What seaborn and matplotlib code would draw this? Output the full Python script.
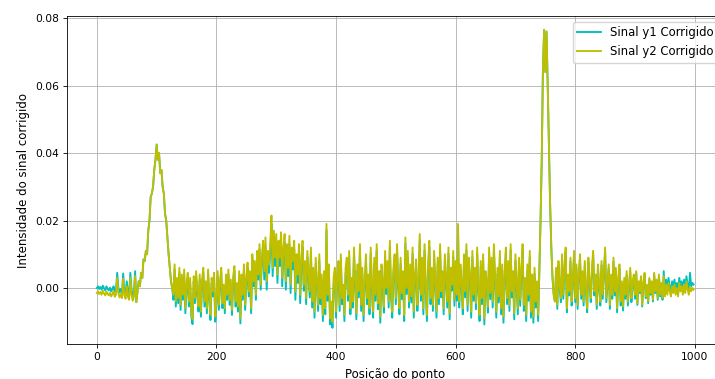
import numpy as np
import matplotlib
matplotlib.use("Agg")
import matplotlib.pyplot as plt
import matplotlib.ticker as mticker
import seaborn as sns

# Sample positions (every 2nd point of the 0..999 scan)
posicao = np.arange(0, 1000, 2)

# Corrected signal intensities, written in units of 1e-4
y1_corrigido_e4 = [
    0, 5, -3, 3, -5, 7, -1, -7, 5, -3,
    -7, 1, -10, -3, 5, -11, -5, 45, 0, -13,
    -3, -15, 43, -7, -17, 20, -11, -20, 45, -5,
    -23, -10, 50, -42, -10, 20, 5, 45, 30, 85,
    80, 110, 100, 170, 200, 270, 280, 300, 350, 380,
    425, 380, 400, 340, 350, 300, 280, 220, 200, 150,
    100, 60, 20, 0, -35, 55, -55, 15, -45, 45,
    -65, 25, -35, 40, -75, -5, 30, -55, 15, -85,
    -107, 20, -45, 35, -25, -70, 25, -85, 10, 45,
    -55, 5, -75, 40, -35, -95, 15, -25, 30, -100,
    -45, 35, -65, 5, 45, -60, -5, -75, 25, -35,
    40, -50, 10, -80, 20, 50, -55, 0, -70, 35,
    -105, 25, -35, 55, -65, 15, 60, -25, 35, -75,
    85, 5, 65, -35, 95, 25, 115, -5, 75, 125,
    25, 125, -5, 85, 45, 105, 190, 35, 145, 65,
    135, 15, 115, 65, 140, 5, 95, 135, -5, 105,
    35, 130, -15, 95, 55, 115, -35, 75, 15, 105,
    -45, 65, 122, -8, 62, -48, 92, 32, -28, 102,
    -58, 42, -88, 72, 2, -68, 82, -48, 22, -98,
    32, -78, 172, -38, 52, -108, -58, -118, 12, 42,
    -88, 22, 62, -68, 82, -48, -8, -98, 42, 72,
    -38, 92, -78, 12, -58, 102, 2, -93, 52, -28,
    112, -68, 42, -98, 2, 82, -48, 22, -78, 102,
    -8, -88, 72, -38, 112, -63, 32, -103, 52, 2,
    -73, 92, -18, 62, -58, 122, -28, -88, 42, 82,
    -48, 112, 2, -78, 72, -33, 32, -98, 132, -18,
    92, -58, 52, -43, 102, -88, 22, 67, -68, 2,
    142, -38, 72, -78, 112, -8, -98, 52, 122, -48,
    42, -68, 92, 2, -88, 72, -48, 112, -28, 32,
    -78, 82, 12, -58, 102, -93, 42, -8, 92, -53,
    62, -38, 172, -58, 52, 2, -78, 82, -28, 112,
    -68, 72, 22, -88, 92, -38, 42, -63, 102, -8,
    -98, 62, -48, 82, -108, 32, 2, -73, 102, -33,
    72, -58, 112, 12, -88, 42, -43, 92, -78, 52,
    -103, 22, 102, -48, 62, -68, 112, -28, 32, -93,
    82, 2, -78, 72, -53, 42, 112, -68, 12, -98,
    52, -38, 92, -88, 22, -103, 42, -58, 2, -98,
    50, 200, 380, 650, 765, 640, 760, 600, 420, 250,
    120, 30, -20, -40, 48, -62, 68, -2, -42, 88,
    -32, 48, 108, -72, 28, -22, 78, -52, 8, 98,
    -42, 58, -62, 28, 88, -32, 38, -52, 68, -12,
    -72, 78, 8, -42, 48, 98, -22, 28, -62, 58,
    -2, -52, 68, -32, 38, 108, -42, 8, 58, -62,
    28, -32, 78, -22, 48, -72, 18, 58, -52, 8,
    -67, 18, -32, 38, -52, -2, 48, -42, 8, 28,
    -32, 45, -50, 15, -15, 30, -55, 10, 40, -30,
    5, -45, 25, -20, 15, -40, 40, -15, 20, -35,
    35, -25, 10, -35, 50, -10, 25, -5, 30, 5,
    -10, 20, 0, 25, -5, 15, -10, 30, 5, 20,
    -5, 25, 0, 35, 10, -5, 45, 5, 15, 10,
]

y2_corrigido_e4 = [
    -15, -10, -18, -12, -20, -8, -16, -22, -10, -18,
    -22, -14, -25, -18, -10, -26, -20, 30, -15, -28,
    -18, -30, 28, -22, -32, 5, -26, -35, 30, -20,
    -38, -25, 35, -42, -10, 20, 5, 45, 30, 85,
    80, 110, 100, 170, 200, 270, 280, 300, 350, 380,
    425, 380, 400, 340, 350, 300, 280, 220, 200, 150,
    100, 60, 20, 0, -20, 70, -40, 30, -30, 60,
    -50, 40, -20, 55, -60, 10, 45, -40, 30, -70,
    -92, 35, -30, 50, -10, -55, 40, -70, 25, 60,
    -40, 20, -60, 55, -20, -80, 30, -10, 45, -85,
    -30, 50, -50, 20, 60, -45, 10, -60, 40, -20,
    55, -35, 25, -65, 35, 65, -40, 15, -55, 50,
    -90, 40, -20, 70, -50, 30, 75, -10, 50, -60,
    100, 20, 80, -20, 110, 40, 130, 10, 90, 140,
    50, 150, 20, 110, 70, 130, 215, 60, 170, 90,
    160, 40, 140, 90, 165, 30, 120, 160, 20, 130,
    60, 155, 10, 120, 80, 140, -10, 100, 40, 130,
    -20, 90, 140, 10, 80, -30, 110, 50, -10, 120,
    -40, 60, -70, 90, 20, -50, 100, -30, 40, -80,
    50, -60, 190, -20, 70, -90, -40, -100, 30, 60,
    -70, 40, 80, -50, 100, -30, 10, -80, 60, 90,
    -20, 110, -60, 30, -40, 120, 20, -75, 70, -10,
    130, -50, 60, -80, 20, 100, -30, 40, -60, 120,
    10, -70, 90, -20, 130, -45, 50, -85, 70, 20,
    -55, 110, 0, 80, -40, 140, -10, -70, 60, 100,
    -30, 130, 20, -60, 90, -15, 50, -80, 150, 0,
    110, -40, 70, -25, 120, -70, 40, 85, -50, 20,
    160, -20, 90, -60, 130, 10, -80, 70, 140, -30,
    60, -50, 110, 20, -70, 90, -30, 130, -10, 50,
    -60, 100, 30, -40, 120, -75, 60, 10, 110, -35,
    80, -20, 190, -40, 70, 20, -60, 100, -10, 130,
    -50, 90, 40, -70, 110, -20, 60, -45, 120, 10,
    -80, 80, -30, 100, -90, 50, 20, -55, 120, -15,
    90, -40, 130, 30, -70, 60, -25, 110, -60, 70,
    -85, 40, 120, -30, 80, -50, 130, -10, 50, -75,
    100, 20, -60, 90, -35, 60, 130, -50, 30, -80,
    70, -20, 110, -70, 40, -85, 60, -40, 20, -80,
    50, 200, 380, 650, 765, 640, 760, 600, 420, 250,
    120, 30, -20, -40, 60, -50, 80, 10, -30, 100,
    -20, 60, 120, -60, 40, -10, 90, -40, 20, 110,
    -30, 70, -50, 40, 100, -20, 50, -40, 80, 0,
    -60, 90, 20, -30, 60, 110, -10, 40, -50, 70,
    10, -40, 80, -20, 50, 120, -30, 20, 70, -50,
    40, -20, 90, -10, 60, -60, 30, 70, -40, 20,
    -55, 30, -20, 50, -40, 10, 60, -30, 20, 40,
    -20, 50, -45, 20, -10, 35, -50, 15, 45, -25,
    10, -40, 30, -15, 20, -35, 45, -10, 25, -30,
    40, -20, 15, -30, 35, -25, 10, -20, 15, -10,
    -25, 5, -15, 10, -20, 0, -25, 15, -10, 5,
    -20, 10, -15, 20, -5, -20, 5, -10, 0, -5,
]

y1_corrigido = np.array(y1_corrigido_e4) * 1e-4
y2_corrigido = np.array(y2_corrigido_e4) * 1e-4

plt.rcParams.update({
    "font.size": 8.5,
    "xtick.labelsize": 7.7,
    "ytick.labelsize": 7.7,
    "legend.fontsize": 8.4,
    "axes.linewidth": 0.6,
    "grid.linewidth": 0.6,
    "xtick.major.width": 0.6,
    "ytick.major.width": 0.6,
    "xtick.major.size": 2.7,
    "ytick.major.size": 2.7,
    "xtick.major.pad": 2.7,
    "ytick.major.pad": 2.7,
})

fig = plt.figure(figsize=(7.15, 3.79), dpi=100)
# the plotting area runs past the right edge of the canvas
ax = fig.add_axes([0.0937, 0.0923, 0.919, 0.8655])

sns.lineplot(x=posicao, y=y1_corrigido, color="c", linewidth=1.35,
             label="Sinal y1 Corrigido", ax=ax)
sns.lineplot(x=posicao, y=y2_corrigido, color="y", linewidth=1.35,
             label="Sinal y2 Corrigido", ax=ax)

ax.set_xlim(-49.95, 1048.95)
ax.set_ylim(-0.0166, 0.0806)
ax.set_xticks([0, 200, 400, 600, 800, 1000])
ax.set_yticks([0.0, 0.02, 0.04, 0.06, 0.08])
ax.yaxis.set_major_formatter(mticker.FormatStrFormatter("%.2f"))
ax.set_xlabel("Posição do ponto", labelpad=4.5)
ax.set_ylabel("Intensidade do sinal corrigido", labelpad=4.0)
ax.spines["right"].set_visible(False)
ax.grid(True)
ax.legend(loc="upper right")

fig.savefig("out.png", dpi=100)
